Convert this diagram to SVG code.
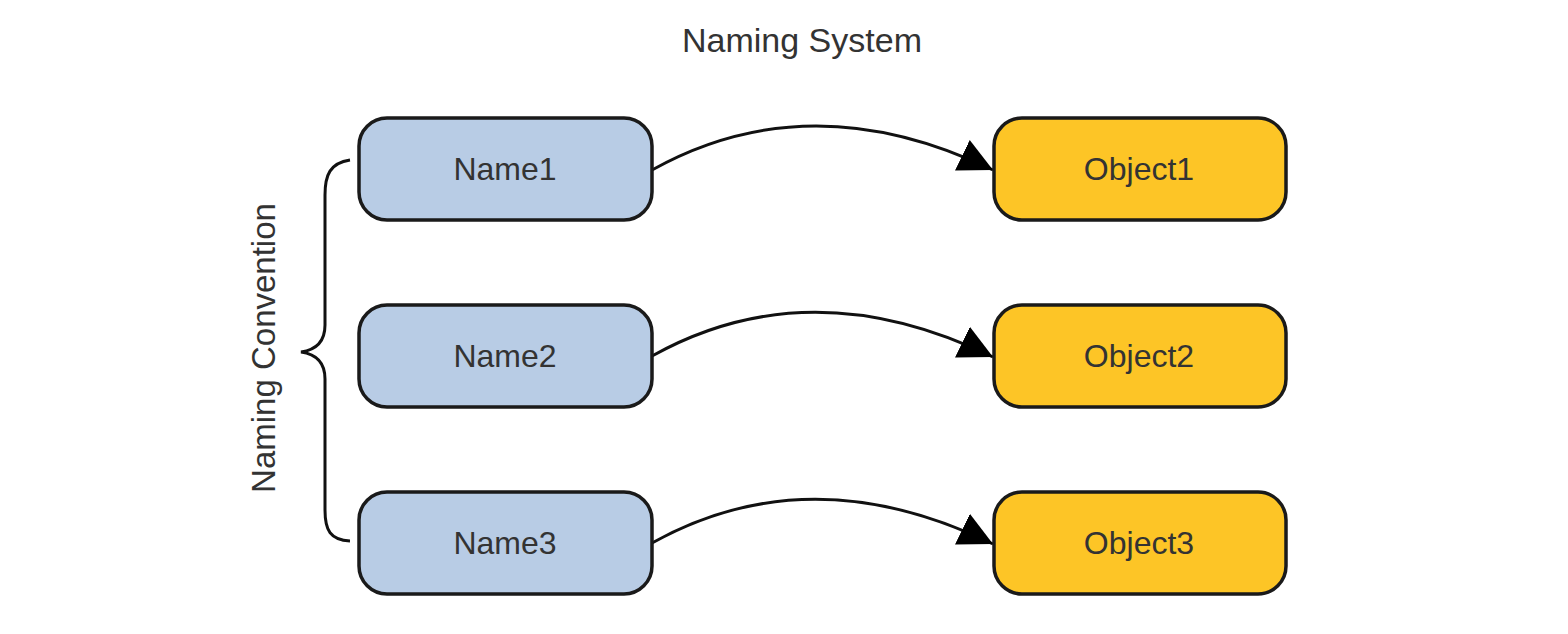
<svg xmlns="http://www.w3.org/2000/svg" width="1568" height="634" viewBox="0 0 1568 634">
<style>
.t{font-family:"Liberation Sans",Arial,sans-serif;font-size:32px;fill:#333;text-anchor:middle}
.n{fill:#B8CCE5;stroke:#1a1a1a;stroke-width:3.5}
.o{fill:#FDC526;stroke:#1a1a1a;stroke-width:3.5}
.c{fill:none;stroke:#111;stroke-width:3}
</style>
<defs>
<marker id="ah" markerUnits="userSpaceOnUse" markerWidth="36" markerHeight="36" refX="34" refY="17" orient="auto" viewBox="0 0 36 34">
<path d="M0,0 L34,17 L0,34 z" fill="#000"/>
</marker>
</defs>
<rect width="1568" height="634" fill="#fff"/>
<text class="t" x="802" y="52" style="font-size:34px">Naming System</text>
<g id="brace">
<path class="c" d="M350,160 C330,163 325,175 325,195 L325,325 C325,342 315,350 301,352 C315,354 325,362 325,379 L325,510 C325,530 330,540 350,541"/>
<text class="t" transform="translate(275,348) rotate(-90)" style="font-size:33px">Naming Convention</text>
</g>
<g id="connectors">
<path class="c" d="M652,170 Q810,82 993,170" marker-end="url(#ah)"/>
<path class="c" d="M652,356 Q810,268 993,357" marker-end="url(#ah)"/>
<path class="c" d="M652,543 Q810,455 993,544" marker-end="url(#ah)"/>
</g>
<g id="name1"><rect class="n" x="359" y="118" width="293" height="102" rx="28"/><text class="t" x="505" y="180">Name1</text></g>
<g id="name2"><rect class="n" x="359" y="305" width="293" height="102" rx="28"/><text class="t" x="505" y="367">Name2</text></g>
<g id="name3"><rect class="n" x="359" y="492" width="293" height="102" rx="28"/><text class="t" x="505" y="554">Name3</text></g>
<g id="object1"><rect class="o" x="994" y="118" width="292" height="102" rx="28"/><text class="t" x="1139" y="180">Object1</text></g>
<g id="object2"><rect class="o" x="994" y="305" width="292" height="102" rx="28"/><text class="t" x="1139" y="367">Object2</text></g>
<g id="object3"><rect class="o" x="994" y="492" width="292" height="102" rx="28"/><text class="t" x="1139" y="554">Object3</text></g>
</svg>
